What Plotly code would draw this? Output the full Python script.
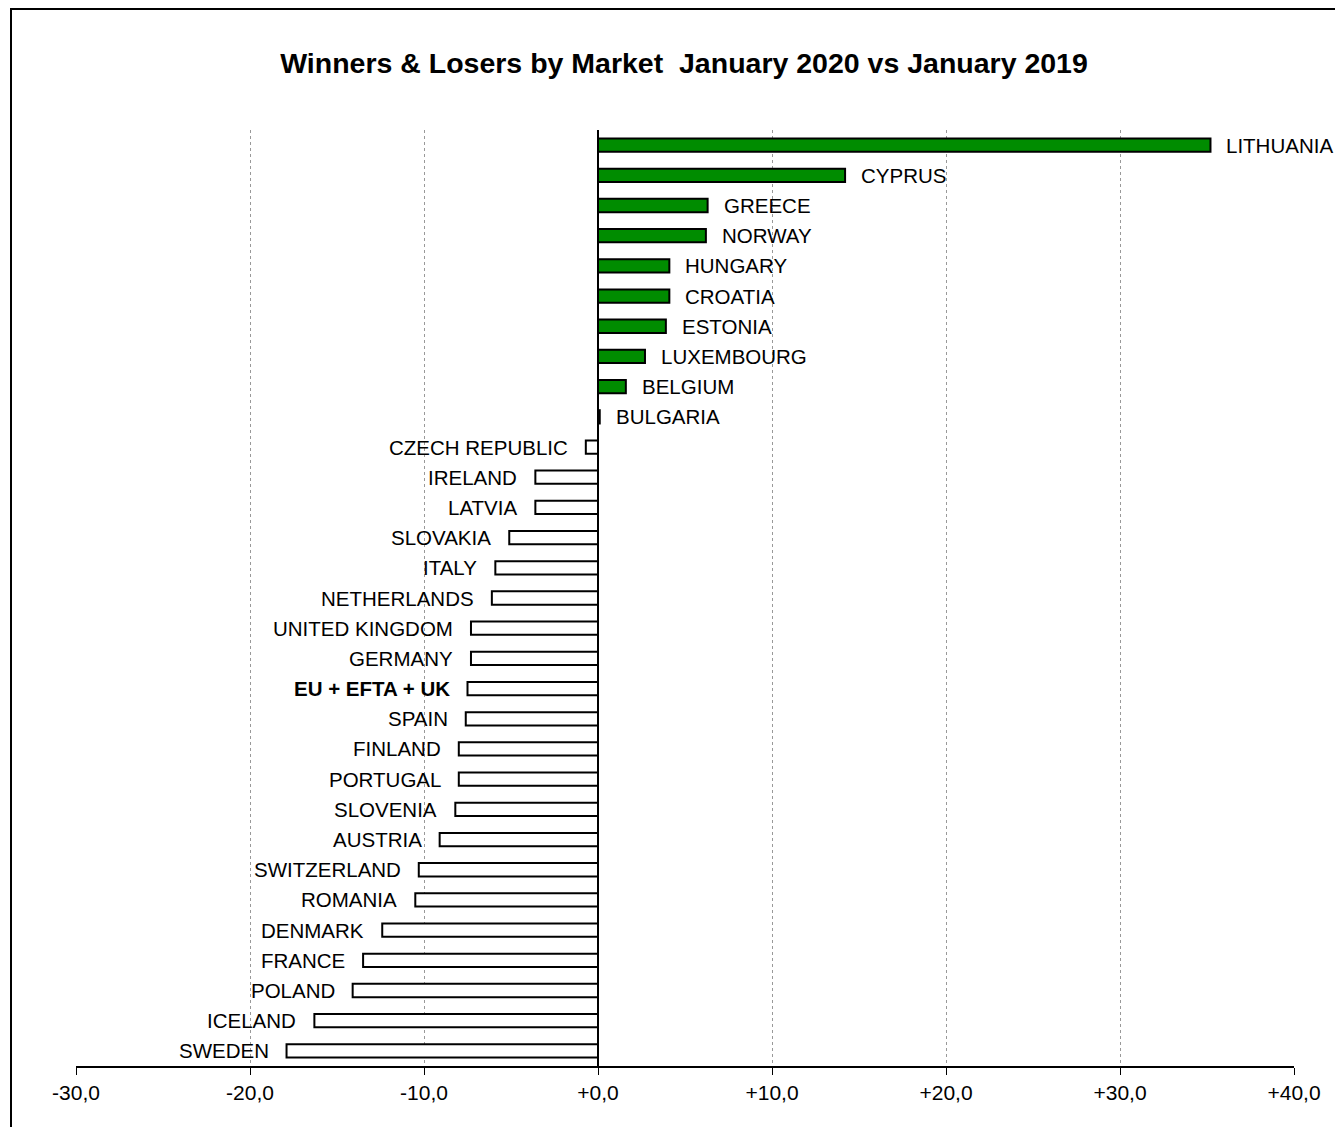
import plotly.graph_objects as go

countries = ["LITHUANIA", "CYPRUS", "GREECE", "NORWAY", "HUNGARY", "CROATIA", "ESTONIA",
             "LUXEMBOURG", "BELGIUM", "BULGARIA", "CZECH REPUBLIC", "IRELAND", "LATVIA",
             "SLOVAKIA", "ITALY", "NETHERLANDS", "UNITED KINGDOM", "GERMANY", "EU + EFTA + UK",
             "SPAIN", "FINLAND", "PORTUGAL", "SLOVENIA", "AUSTRIA", "SWITZERLAND", "ROMANIA",
             "DENMARK", "FRANCE", "POLAND", "ICELAND", "SWEDEN"]
changes = [35.2, 14.2, 6.3, 6.2, 4.1, 4.1, 3.9, 2.7, 1.6, 0.1, -0.7, -3.6, -3.6,
           -5.1, -5.9, -6.1, -7.3, -7.3, -7.5, -7.6, -8.0, -8.0, -8.2, -9.1, -10.3, -10.5,
           -12.4, -13.5, -14.1, -16.3, -17.9]
tick_vals = [-30, -20, -10, 0, 10, 20, 30, 40]
tick_text = ["-30,0", "-20,0", "-10,0", "+0,0", "+10,0", "+20,0", "+30,0", "+40,0"]
title_text = "Winners & Losers by Market  January 2020 vs January 2019"
total_label = "EU + EFTA + UK"

FONT = "Liberation Sans, Arial, sans-serif"
colors = ["#008C00" if v > 0 else "#FFFFFF" for v in changes]

W, H = 1327, 1119
L, R, T, B = 68, 41, 122, 61
PW, PH = W - L - R, H - T - B

fig = go.Figure()
fig.add_trace(go.Bar(
    x=changes, y=countries, orientation="h",
    marker=dict(color=colors, line=dict(color="black", width=2)),
    width=0.44, showlegend=False, hoverinfo="x+y",
))

annotations = []
for c, v in zip(countries, changes):
    txt = "<b>%s</b>" % c if c == total_label else c
    annotations.append(dict(
        x=v, y=c, xref="x", yref="y", text=txt, showarrow=False,
        xanchor="left" if v >= 0 else "right",
        xshift=14 if v >= 0 else -16,
        font=dict(family=FONT, size=20.5, color="black"),
    ))

fig.update_layout(
    width=W, height=H,
    margin=dict(l=L, r=R, t=T, b=B),
    paper_bgcolor="white", plot_bgcolor="white",
    title=dict(text="<b>%s</b>" % title_text, x=(684 - 8) / W,
               xanchor="center",
               y=1 - 55 / H, yanchor="middle",
               font=dict(family=FONT, size=28.5, color="black")),
    annotations=annotations,
    xaxis=dict(range=[-30, 40], tickvals=tick_vals, ticktext=tick_text,
               showgrid=True, gridcolor="#999999", griddash="dot", gridwidth=1,
               zeroline=True, zerolinecolor="black", zerolinewidth=1.5,
               showline=True, linecolor="black", linewidth=1.5,
               ticks="outside", ticklen=7, tickcolor="black",
               tickfont=dict(family=FONT, size=21, color="black")),
    yaxis=dict(categoryorder="array", categoryarray=countries,
               showticklabels=False, showgrid=False, zeroline=False, showline=False,
               range=[30.5, -0.5]),
    shapes=[dict(type="rect", xref="paper", yref="paper",
                 x0=(3 - L) / PW, x1=1.2, y0=-0.2,
                 y1=(PH + T - 1) / PH,
                 line=dict(color="black", width=2), fillcolor="rgba(0,0,0,0)",
                 layer="below")],
)

fig.write_html("out.html")
